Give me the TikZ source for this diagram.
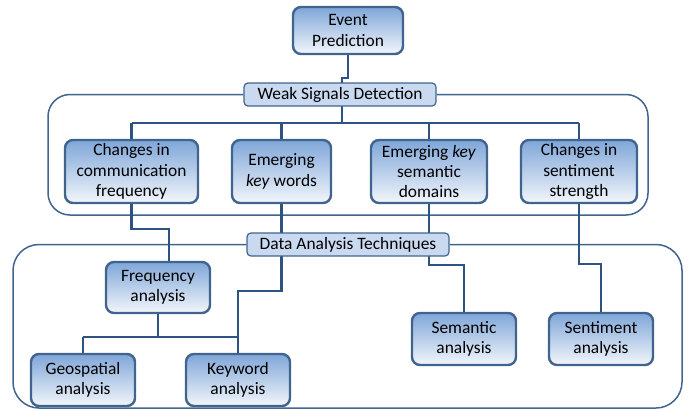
\documentclass[tikz,border=0pt]{standalone}
\usepackage{fontspec}
\setmainfont{Carlito}
\usetikzlibrary{backgrounds}
\definecolor{bordc}{HTML}{41648F}
\definecolor{linec}{HTML}{2E5282}
\definecolor{topc}{HTML}{7FA6D8}
\definecolor{botc}{HTML}{F2F6FB}
\definecolor{labc}{HTML}{C9DAF0}
\tikzset{
  boxn/.style={draw=bordc, line width=2.4pt, rounded corners=8pt,
    top color=topc, bottom color=botc, inner sep=0pt, align=center,
    font=\fontsize{17.4}{20.2}\selectfont},
  labn/.style={draw=bordc, line width=1.2pt, rounded corners=4pt, fill=labc,
    inner sep=0pt, align=center, font=\fontsize{17.4}{20.2}\selectfont},
  conn/.style={draw=linec, line width=2.5pt},
  frame/.style={draw=bordc, line width=1.5pt, rounded corners=22pt}
}
\begin{document}
\begin{tikzpicture}[x=1pt,y=-1pt]
\useasboundingbox (0,0) rectangle (690,410);
% nodes
\node[boxn, minimum width=110pt, minimum height=47pt] (ep) at (348,30.5) {Event\\Prediction};
\node[labn, minimum width=192pt, minimum height=23pt] (wsd) at (340,94.5) {Weak Signals Detection};
\node[boxn, minimum width=133pt, minimum height=63pt] (b1) at (131.5,171.5) {Changes in\\communication\\frequency};
\node[boxn, minimum width=99pt, minimum height=63pt] (b2) at (281.5,171.5) {Emerging\\\textit{key} words};
\node[boxn, minimum width=116pt, minimum height=63pt] (b3) at (429,171.5) {Emerging \textit{key}\\semantic\\domains};
\node[boxn, minimum width=116pt, minimum height=63pt] (b4) at (579,171.5) {Changes in\\sentiment\\strength};
\node[labn, minimum width=202pt, minimum height=23pt] (dat) at (348,244.5) {Data Analysis Techniques};
\node[boxn, minimum width=104pt, minimum height=51pt] (fa) at (158,287.5) {Frequency\\analysis};
\node[boxn, minimum width=104pt, minimum height=52pt] (geo) at (83,380) {Geospatial\\analysis};
\node[boxn, minimum width=104pt, minimum height=52pt] (kw) at (238,380) {Keyword\\analysis};
\node[boxn, minimum width=104pt, minimum height=52pt] (sem) at (464,339) {Semantic\\analysis};
\node[boxn, minimum width=104pt, minimum height=52pt] (sen) at (601,339) {Sentiment\\analysis};
\coordinate (busL) at (131.5,123);
\coordinate (busR) at (579,123);
\coordinate (fbusL) at (83,337);
\coordinate (fbusR) at (239,337);
\begin{scope}[on background layer]
\draw[frame] (wsd.west) -- (48,94.5) -- (48,215) -- (648,215) -- (648,94.5) -- (wsd.east);
\draw[frame, rounded corners=26pt] (dat.west) -- (13,244.5) -- (13,408) -- (682,408) -- (682,244.5) -- (dat.east);
% connectors
\draw[conn] (ep.south) -- (348,78) -- (342,78) -- (342,83);
\draw[conn] (342,106) -- (342,123);
\draw[conn] (busL) -- (busR);
\draw[conn] (busL) -- (b1.north);
\draw[conn] (b2.north |- busL) -- (b2.north);
\draw[conn] (b3.north |- busL) -- (b3.north);
\draw[conn] (busR) -- (b4.north);
\draw[conn] (b1.south) -- (131.5,229) -- (169,229) -- (169,262);
\draw[conn] (b2.south) -- (281.5,291) -- (238,291) -- (kw.north);
\draw[conn] (b3.south) -- (429,265) -- (464,265) -- (sem.north);
\draw[conn] (b4.south) -- (579,264) -- (601,264) -- (sen.north);
\draw[conn] (fa.south) -- (158,337);
\draw[conn] (fbusL) -- (fbusR);
\draw[conn] (fbusL) -- (geo.north);
\end{scope}
\end{tikzpicture}
\end{document}
